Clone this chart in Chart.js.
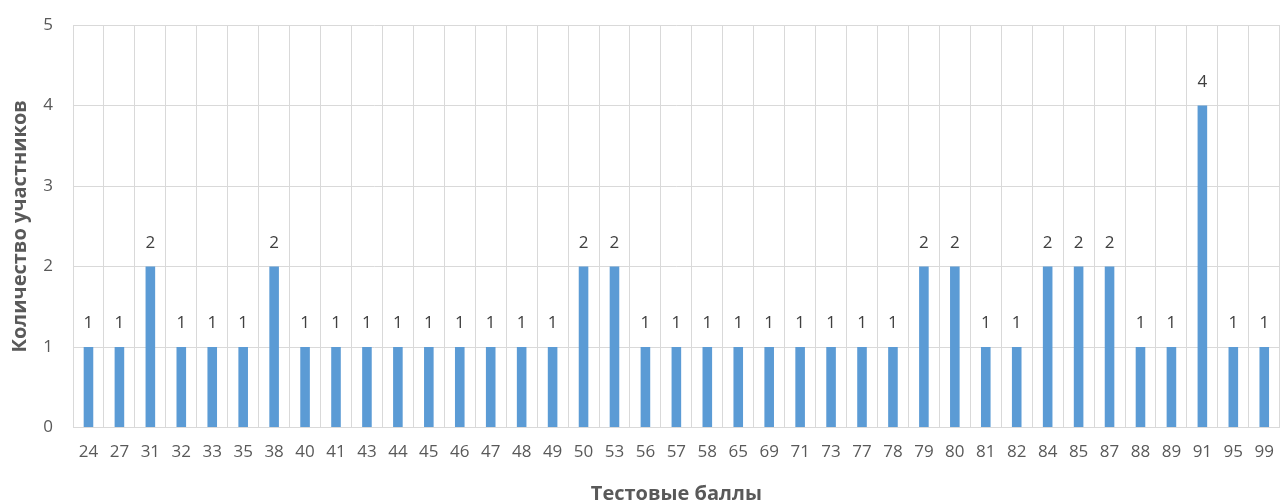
<!DOCTYPE html>
<html><head><meta charset="utf-8">
<script src="https://cdn.jsdelivr.net/npm/chart.js@4"></script>
<style>html,body{margin:0;padding:0;background:#fff;overflow:hidden}#w{width:1288px;height:502px}</style>
</head><body><div id="w"><canvas id="c"></canvas></div>
<script>
const categories = ["24","27","31","32","33","35","38","40","41","43","44","45","46","47","48","49","50","53","56","57","58","65","69","71","73","77","78","79","80","81","82","84","85","87","88","89","91","95","99"];
const counts = [1,1,2,1,1,1,2,1,1,1,1,1,1,1,1,1,2,2,1,1,1,1,1,1,1,1,1,2,2,1,1,2,2,2,1,1,4,1,1];
const yTitle = "Количество участников";
const xTitle = "Тестовые баллы";
const FONT = '"Open Sans", sans-serif';

const labelPlugin = {
  id: 'vals',
  afterDatasetsDraw(chart) {
    const ctx = chart.ctx;
    const meta = chart.getDatasetMeta(0);
    ctx.save();
    ctx.font = '17px ' + FONT;
    ctx.fillStyle = '#404040';
    ctx.textAlign = 'center';
    ctx.textBaseline = 'alphabetic';
    meta.data.forEach((bar, i) => {
      ctx.fillText(String(counts[i]), bar.x, bar.y - 19);
    });
    ctx.restore();
  }
};

new Chart(document.getElementById('c'), {
  type: 'bar',
  data: { labels: categories, datasets: [{ data: counts, backgroundColor: '#5B9BD5', barPercentage: 0.31, categoryPercentage: 1 }] },
  options: {
    responsive: true, maintainAspectRatio: false, animation: false,
    layout: { padding: { left: 8, right: 2, top: 25, bottom: 0 } },
    plugins: { legend: { display: false }, tooltip: { enabled: false } },
    scales: {
      x: {
        grid: { color: '#D9D9D9', drawTicks: false },
        border: { color: '#D9D9D9' },
        ticks: { color: '#595959', font: { family: FONT, size: 17 }, padding: 14, maxRotation: 0, autoSkip: false },
        title: { display: true, text: xTitle, color: '#595959', font: { family: FONT, size: 20, weight: 'bold' }, padding: { top: 6, bottom: -4 } }
      },
      y: {
        min: 0, max: 5,
        afterFit(scale) { scale.width = 65; scale.paddingTop = 0; },
        grid: { color: '#D9D9D9', drawTicks: false },
        border: { display: false },
        ticks: { stepSize: 1, color: '#595959', font: { family: FONT, size: 17 }, padding: 20 },
        title: { display: true, text: yTitle, color: '#595959', font: { family: FONT, size: 20, weight: 'bold' }, padding: { top: 0, bottom: 6 } }
      }
    }
  },
  plugins: [labelPlugin]
});
</script></body></html>
